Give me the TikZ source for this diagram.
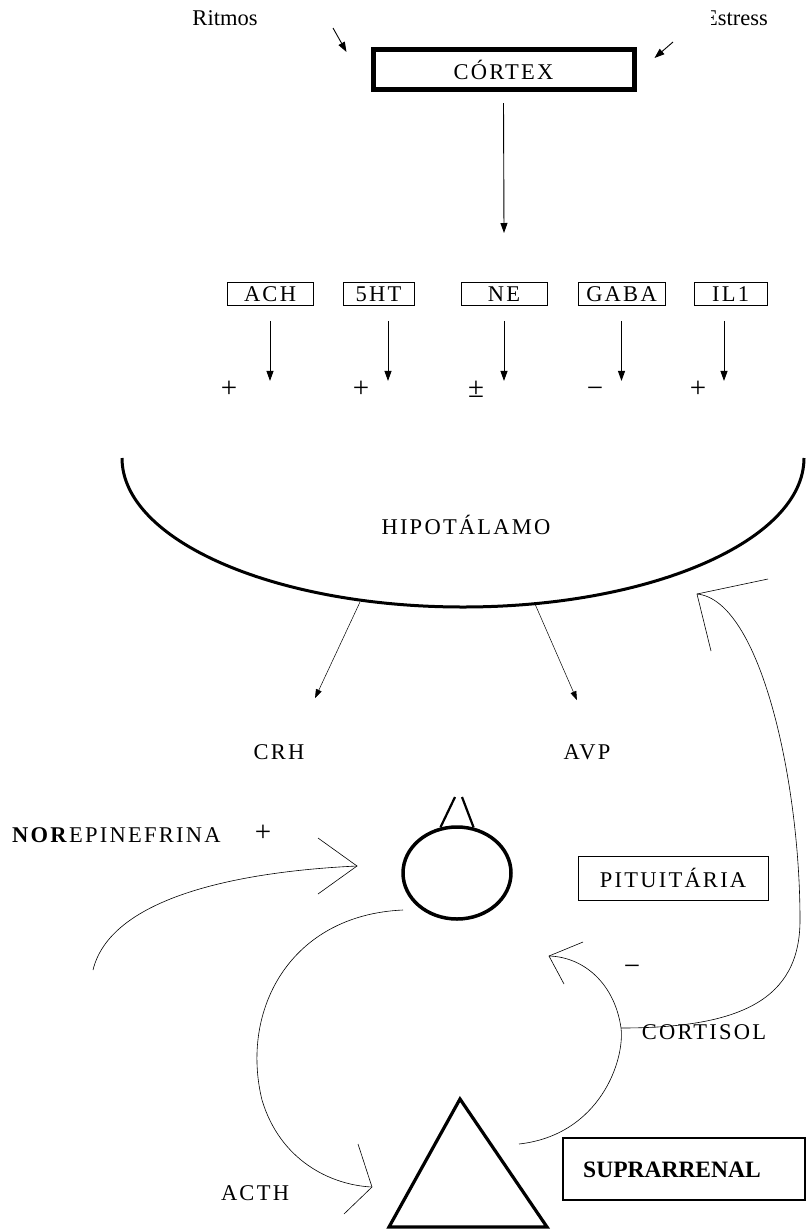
\documentclass[tikz,border=0pt]{standalone}
\usepackage{fontspec}
\setmainfont{Liberation Serif}
\newfontfamily\spacedfont[LetterSpace=10]{Liberation Serif}
\usetikzlibrary{arrows.meta,shapes.geometric}
\begin{document}
\begin{tikzpicture}[x=1pt,y=-1pt,
  plainlbl/.style={font=\fontsize{22.5}{26}\selectfont, inner sep=0pt},
  lbl/.style={font=\fontsize{22.5}{26}\selectfont\spacedfont, inner sep=0pt},
  sign/.style={font=\fontsize{29}{32}\selectfont, inner sep=0pt, anchor=base},
  nbox/.style={lbl, draw, line width=0.9pt, minimum height=23pt},
  arr/.style={-{Triangle[length=10pt,width=7pt]}, line width=0.9pt},
  tarr/.style={-{Triangle[length=9pt,width=6pt]}, line width=0.5pt},
  curv/.style={line width=0.6pt},
  thick3/.style={line width=3pt},
]
\useasboundingbox (0,0) rectangle (806,1229);

% top inputs
\node[plainlbl] (ritmos) at (225,18) {Ritmos};
\begin{scope}
\clip (711,0) rectangle (806,40);
\node[plainlbl, anchor=east] (stress) at (768,18) {Estress};
\end{scope}
\node[draw, line width=5pt, minimum width=261pt, minimum height=40pt, lbl] (cortex) at (503.5,69.5) {CÓRTEX};
\coordinate (ritA) at (333,28);
\coordinate (strA) at (673,42);
\draw[arr] (ritA) -- ([xshift=-24pt,yshift=-5pt]cortex.north west);
\draw[arr] (strA) -- ([xshift=18pt,yshift=-11pt]cortex.north east);
\coordinate (cortexEnd) at (504,233);
\draw[arr] ([yshift=-11pt]cortex.south) -- (cortexEnd);

% neurotransmitters
\node[nbox, minimum width=86pt] (ach) at (270,294) {ACH};
\node[nbox, minimum width=71pt] (sht) at (378.5,294) {5HT};
\node[nbox, minimum width=86pt] (ne) at (504,294) {NE};
\node[nbox, minimum width=87pt] (gaba) at (621.5,294) {GABA};
\node[nbox, minimum width=73pt] (il) at (730.5,294) {IL1};
\foreach \n/\dx in {ach/0, sht/9.5, ne/0, gaba/0, il/-6.5}{
  \draw[arr] ([xshift=\dx pt,yshift=-15pt]\n.south) -- ++(0,60);
}
\node[sign] (s1) at (229,397) {+};
\node[sign] (s2) at (361,397) {+};
\node[sign] (s3) at (476,397) {±};
\node[sign] (s4) at (595,397) {−};
\node[sign] (s5) at (698,397) {+};

% hypothalamus
\draw[thick3] (122,458) arc[start angle=180, end angle=360, x radius=341pt, y radius=149pt];
\node[lbl] (hipo) at (466,525) {HIPOTÁLAMO};
\coordinate (crhS) at (360,602);
\coordinate (avpS) at (535,604);
\node[lbl] (crh) at (279,752) {CRH};
\node[lbl] (avp) at (587,752) {AVP};
\draw[tarr] (crhS) -- ([xshift=36pt,yshift=46pt]crh.north);
\draw[tarr] (avpS) -- ([xshift=-10pt,yshift=44pt]avp.north);

% pituitary
\node[ellipse, draw, line width=3.5pt, minimum width=108pt, minimum height=92pt, inner sep=0pt] (pit) at (457,873) {};
\coordinate (stL) at (455,797);
\coordinate (stR) at (462,797);
\draw[line width=2.2pt] (pit.110) -- (stL);
\draw[line width=2.2pt] (pit.70) -- (stR);
\node[lbl, anchor=west] (nor) at (12,835) {\textbf{NOR}EPINEFRINA};
\node[sign] (plus) at (263,841) {+};
\node[nbox, minimum width=190pt, minimum height=44pt] (pitlbl) at (673,878) {PITUITÁRIA};

% norepinephrine arrow
\coordinate (norS) at (93,970);
\coordinate (norT) at (357,866);
\draw[curv] (norS) .. controls (110,900) and (230,872) .. (norT);
\draw[curv] (318,838) -- (norT) -- (318,894);

% adrenal
\coordinate (triA) at (460,1099);
\coordinate (triL) at (389,1227);
\coordinate (triR) at (547,1227);
\draw[line width=3.2pt, line join=miter] (triA) -- (triL) -- (triR) -- cycle;
\node[draw, line width=2pt, minimum width=242pt, minimum height=62pt] (supra) at (684,1169) {};
\node[plainlbl, font=\fontsize{23.5}{27}\selectfont\bfseries] (supralbl) at (672,1170) {SUPRARRENAL};

% ACTH
\node[lbl] (acth) at (255,1193) {ACTH};
\coordinate (acthS) at (403,910);
\coordinate (acthT) at (372,1187);
\draw[curv] (acthS) .. controls (290,915) and (240,1010) .. (262,1100) .. controls (280,1160) and (330,1185) .. (acthT);
\draw[curv] (358,1144) -- (acthT) -- (344,1214);

% cortisol
\node[lbl] (cortisol) at (704,1032) {CORTISOL};
\node[sign] (minus) at (632,975) {−};
\coordinate (cortS) at (519,1144);
\coordinate (junc) at (621,1028);
\coordinate (cortT) at (549,956);
\draw[curv] (cortS) .. controls (600,1135) and (625,1060) .. (junc) .. controls (615,985) and (585,957) .. (cortT);
\draw[curv] (583,942) -- (cortT) -- (564,984);
\coordinate (hypT) at (697,594);
\draw[curv] (junc) .. controls (740,1028) and (800,1000) .. (800,920) .. controls (800,780) and (760,600) .. (hypT);
\draw[curv] (768,579) -- (hypT) -- (711,651);
\end{tikzpicture}
\end{document}
